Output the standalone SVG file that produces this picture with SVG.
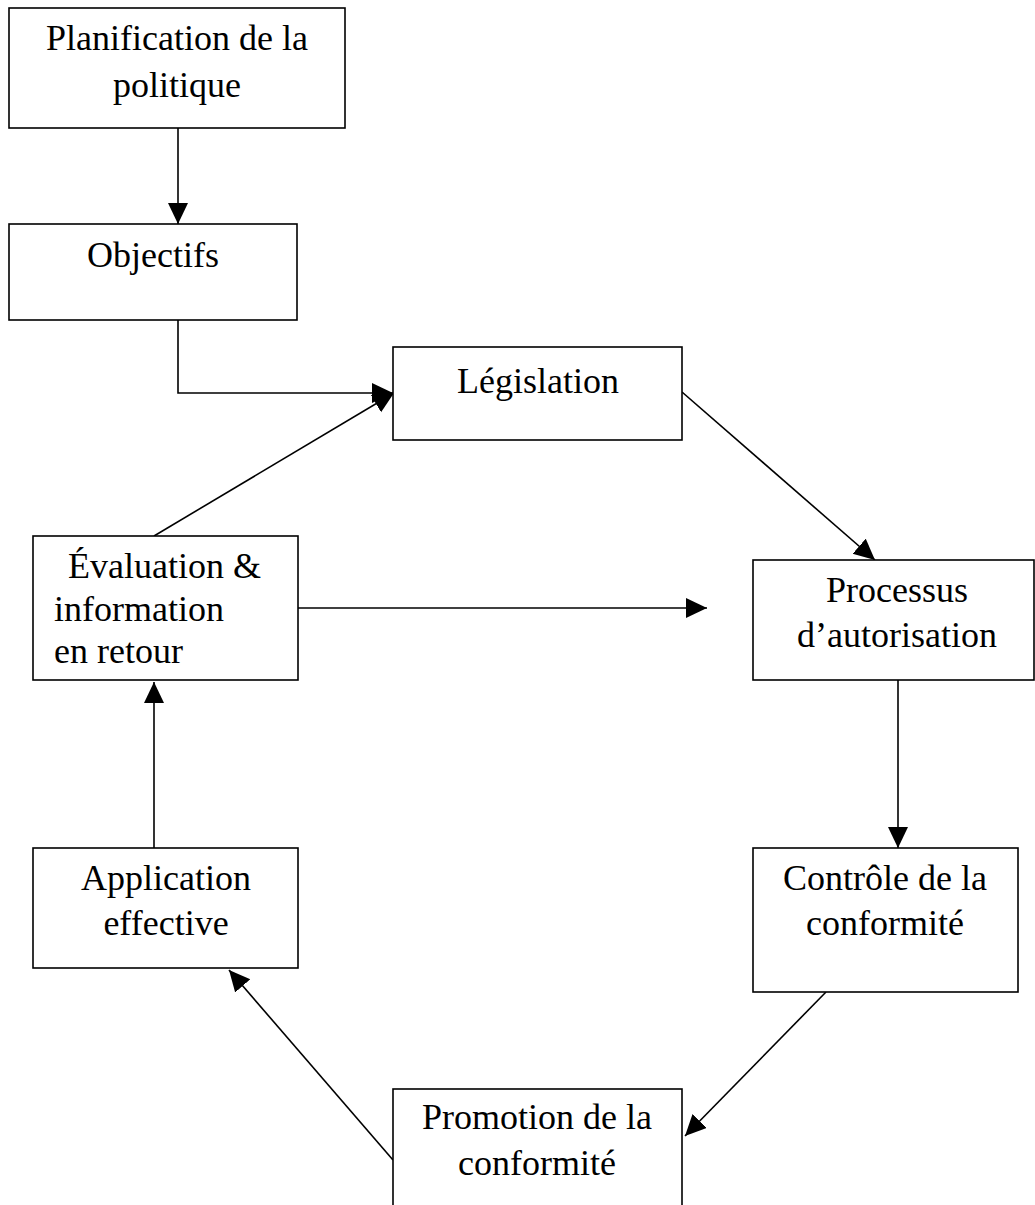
<svg xmlns="http://www.w3.org/2000/svg" width="1035" height="1205" viewBox="0 0 1035 1205">
<style>
  .box { fill: #ffffff; stroke: #000000; stroke-width: 1.6; }
  .lbl { font-family: "Liberation Serif", "Times New Roman", serif; font-size: 36px; fill: #000000; }
  .c { text-anchor: middle; }
  .conn { fill: none; stroke: #000000; stroke-width: 1.6; marker-end: url(#arrow); }
</style>
<defs>
  <marker id="arrow" markerUnits="userSpaceOnUse" markerWidth="22" markerHeight="22" refX="21" refY="10" orient="auto">
    <path d="M0,0 L21,10 L0,20 Z" fill="#000000"/>
  </marker>
</defs>
<rect width="1035" height="1205" fill="#ffffff"/>
<g id="connectors">
  <path class="conn" d="M178,128 L178,224"/>
  <path class="conn" d="M178,320 L178,393 L393,393"/>
  <path class="conn" d="M154,536 L394,393"/>
  <path class="conn" d="M682,392 L875,560"/>
  <path class="conn" d="M298,608 L707,608"/>
  <path class="conn" d="M898,680 L898,848"/>
  <path class="conn" d="M826,992 L685,1136"/>
  <path class="conn" d="M393,1160 L229,970"/>
  <path class="conn" d="M154,848 L154,682"/>
</g>
<g id="node-planification">
  <rect class="box" x="9" y="8" width="336" height="120"/>
  <text class="lbl c" x="177" y="50">Planification de la</text>
  <text class="lbl c" x="177" y="97">politique</text>
</g>
<g id="node-objectifs">
  <rect class="box" x="9" y="224" width="288" height="96"/>
  <text class="lbl c" x="153" y="267">Objectifs</text>
</g>
<g id="node-legislation">
  <rect class="box" x="393" y="347" width="289" height="93"/>
  <text class="lbl c" x="538" y="393">Législation</text>
</g>
<g id="node-evaluation">
  <rect class="box" x="33" y="536" width="265" height="144"/>
  <text class="lbl" x="68" y="578">Évaluation &amp;</text>
  <text class="lbl" x="54" y="621">information</text>
  <text class="lbl" x="54" y="663">en retour</text>
</g>
<g id="node-processus">
  <rect class="box" x="753" y="560" width="281" height="120"/>
  <text class="lbl c" x="897" y="602">Processus</text>
  <text class="lbl c" x="897" y="647">d’autorisation</text>
</g>
<g id="node-controle">
  <rect class="box" x="753" y="848" width="265" height="144"/>
  <text class="lbl c" x="885" y="890">Contrôle de la</text>
  <text class="lbl c" x="885" y="935">conformité</text>
</g>
<g id="node-promotion">
  <rect class="box" x="393" y="1089" width="289" height="130"/>
  <text class="lbl c" x="537" y="1129">Promotion de la</text>
  <text class="lbl c" x="537" y="1175">conformité</text>
</g>
<g id="node-application">
  <rect class="box" x="33" y="848" width="265" height="120"/>
  <text class="lbl c" x="166" y="890">Application</text>
  <text class="lbl c" x="166" y="935">effective</text>
</g>
</svg>
